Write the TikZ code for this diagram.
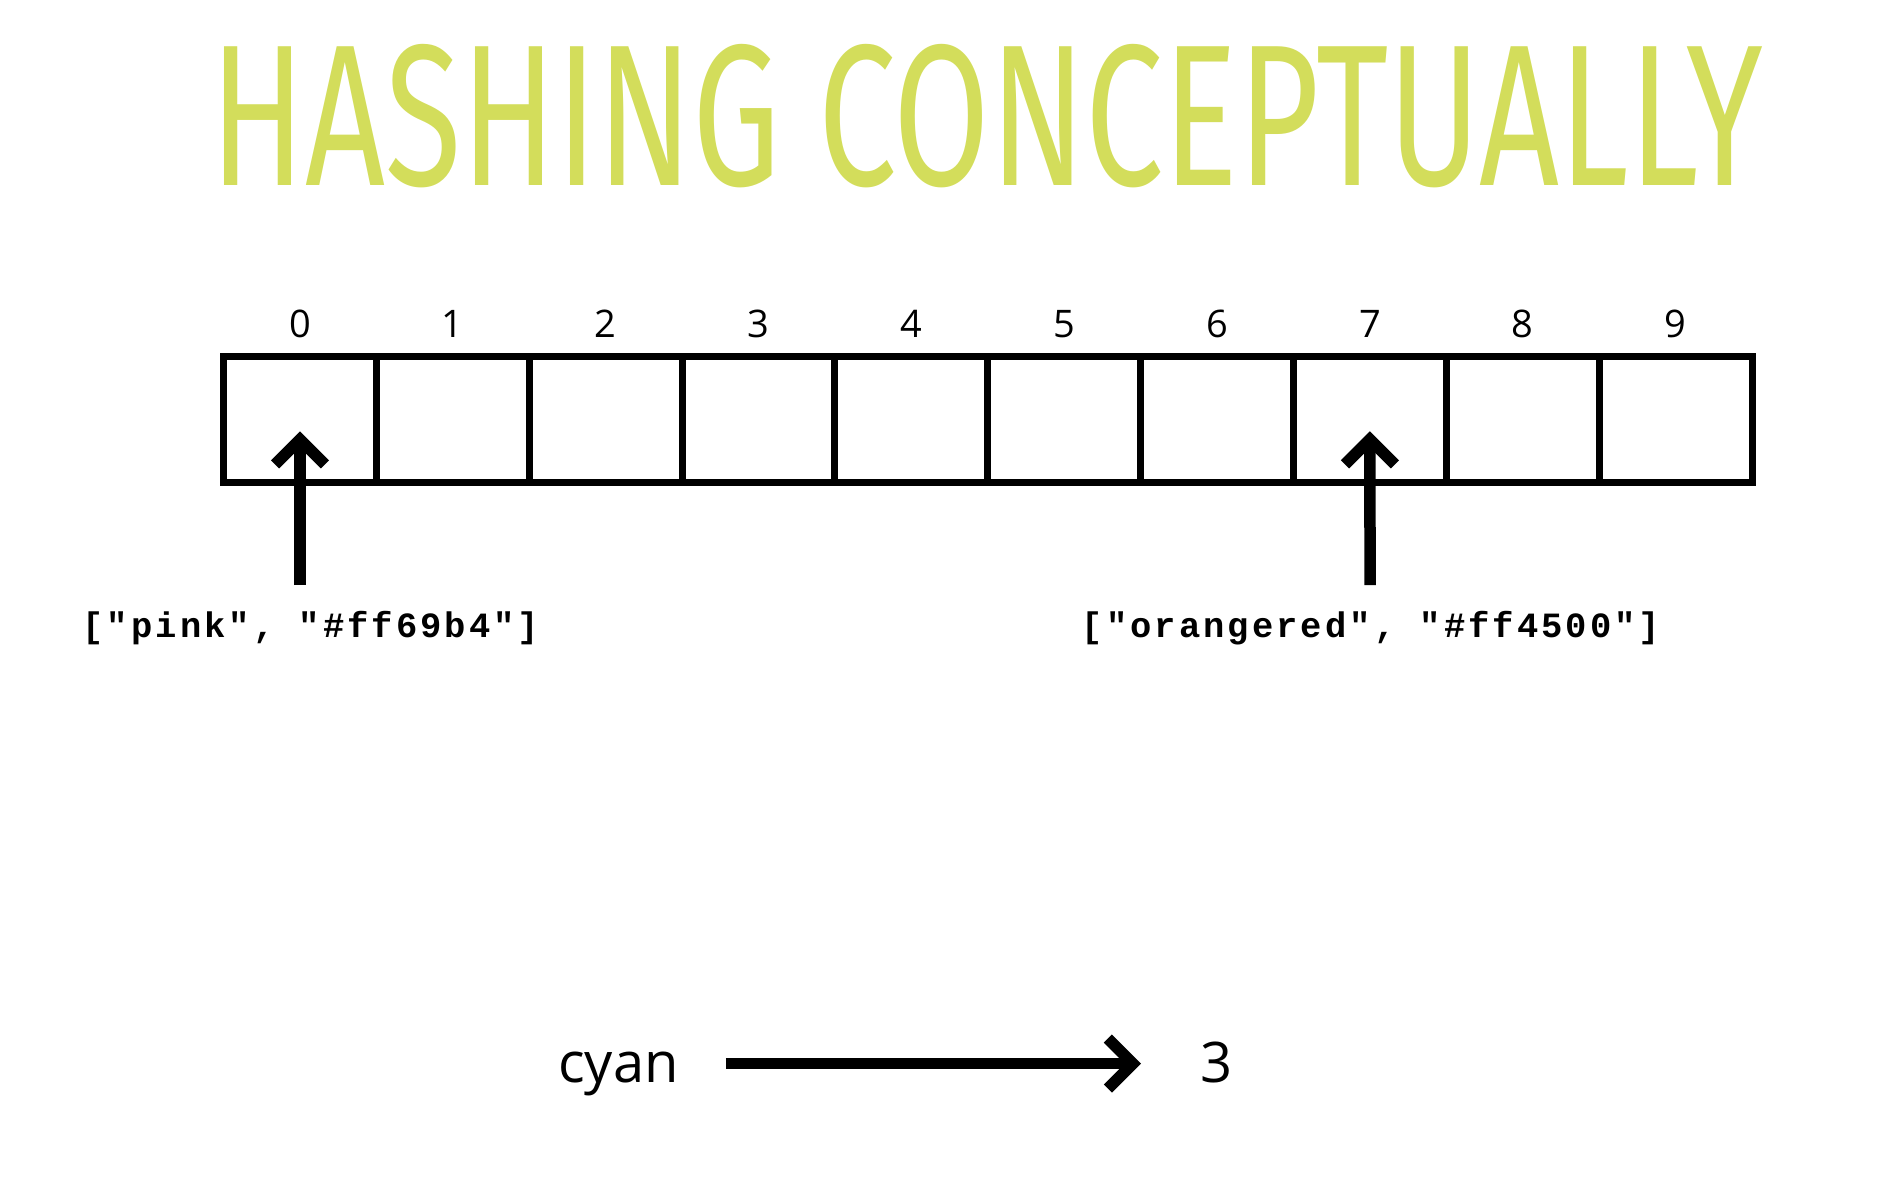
\documentclass[tikz,border=0pt]{standalone}
\usepackage{graphicx}
\usepackage{fontspec}
\setmainfont{Open Sans}
\newfontfamily\titlefont{Fira Sans}
\newfontfamily\codefont[LetterSpace=8.6]{Liberation Mono}
\usetikzlibrary{arrows.meta}
\definecolor{titlegreen}{RGB}{211,221,91}
\begin{document}
\begin{tikzpicture}[x=1pt,y=-1pt,
  cell/.style={draw,line width=7pt,minimum width=152.85pt,minimum height=126.5pt,
    inner sep=0pt,outer sep=0pt},
  idx/.style={font=\fontsize{38}{42}\selectfont,anchor=base,inner sep=0pt},
  pair/.style={font=\codefont\bfseries\fontsize{35.5}{40}\selectfont,anchor=base,inner sep=0pt},
  ptr/.style={line width=11.5pt,-{Straight Barb[length=25pt,width=50pt]}},
  word/.style={font=\fontsize{56}{60}\selectfont,anchor=base west,inner sep=0pt}]
\useasboundingbox (0,0) rectangle (1900,1192);

% heading
\node[anchor=base west,inner sep=0pt,text=titlegreen] (title) at (210,185)
  {\resizebox{1552pt}{141pt}{\titlefont HASHING CONCEPTUALLY}};

% the ten buckets and their indices
\foreach \i in {0,...,9}{
  \node[cell] (c\i) at ({300+152.85*\i},419.25) {};
  \node[idx] (n\i) at ({300+152.85*\i},337) {\i};
}

% stored key/value pairs
\node[pair] (lab0) at (311,637) {["pink", "\#ff69b4"]};
\node[pair] (lab7) at (1371,637) {["orangered", "\#ff4500"]};
\coordinate (p0) at (300,585);
\coordinate (p7) at (1370,585);
\draw[ptr] (p0) -- ([yshift=-12pt]c0.center);
\draw[ptr] (p7) -- ([yshift=-12pt]c7.center);

% hashing a key to an index
\node[word] (cyan) at (558,1082) {cyan};
\node[word] (three) at (1200,1082) {3};
\draw[ptr] ([xshift=47pt,yshift=18.5pt]cyan.base east) -- ([xshift=-59pt,yshift=18.5pt]three.base west);
\end{tikzpicture}
\end{document}
